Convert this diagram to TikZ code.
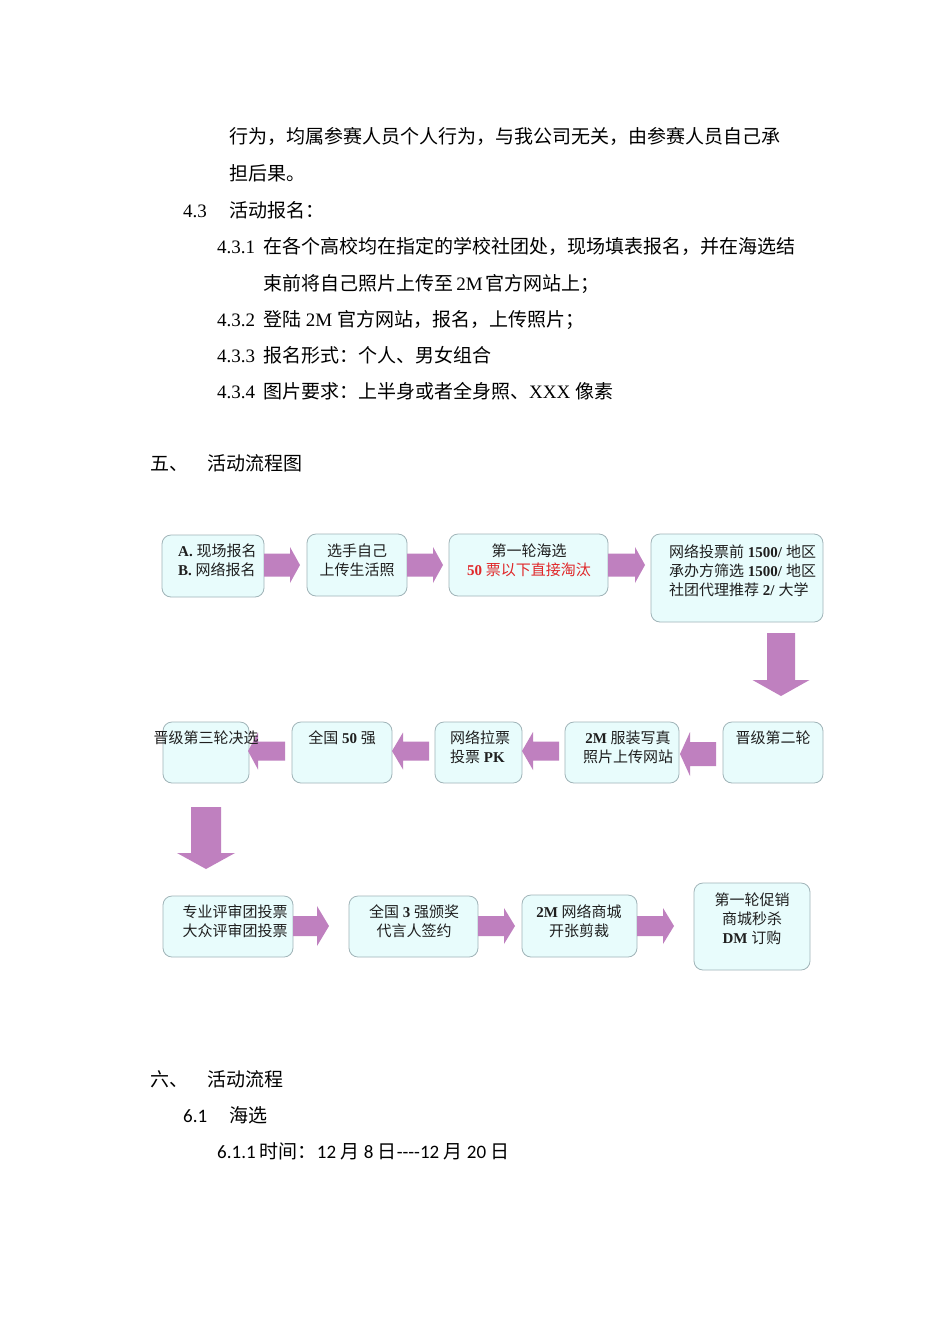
\documentclass[tikz,border=0pt]{standalone}
\usepackage{fontspec}
\setmainfont{Liberation Serif}
\newfontfamily\zhfont{Noto Sans CJK SC}
\newfontfamily\latsans{Carlito}
\newcommand\zh[1]{{\zhfont #1}}
\usetikzlibrary{calc}
\definecolor{boxfill}{HTML}{E8FCFC}
\definecolor{boxline}{HTML}{A0B4B8}
\definecolor{arrowcol}{HTML}{BF80BF}
\definecolor{redtxt}{HTML}{E0282A}
\tikzset{
  flowbox/.style={draw=boxline, fill=boxfill, rounded corners=9pt, line width=0.8pt, inner sep=0pt},
  bodytxt/.style={anchor=west, inner sep=0pt, font=\fontsize{19}{23}\selectfont, text height=16.72pt, text depth=2.28pt},
  sanstxt/.style={bodytxt, font=\fontsize{19}{23}\selectfont\latsans},
  boxtxt/.style={inner sep=0pt, font=\fontsize{15}{19}\selectfont, align=center, text=black!88},
}
% horizontal block arrow: from, tip, body half height, head half height, head length (negative for leftward)
\newcommand\harrow[5]{\fill[arrowcol] let \p1=(#1), \p2=(#2) in
  (\x1,{\y1+#3pt}) -- ({\x2-(#5pt)},{\y1+#3pt}) -- ({\x2-(#5pt)},{\y1+#4pt}) -- (\x2,\y1)
  -- ({\x2-(#5pt)},{\y1-#4pt}) -- ({\x2-(#5pt)},{\y1-#3pt}) -- (\x1,{\y1-#3pt}) -- cycle;}
% downward block arrow: from, tip, body half width, head half width, head length
\newcommand\varrow[5]{\fill[arrowcol] let \p1=(#1), \p2=(#2) in
  ({\x1-#3pt},\y1) -- ({\x1-#3pt},{\y2+#5pt}) -- ({\x1-#4pt},{\y2+#5pt}) -- (\x1,\y2)
  -- ({\x1+#4pt},{\y2+#5pt}) -- ({\x1+#3pt},{\y2+#5pt}) -- ({\x1+#3pt},\y1) -- cycle;}
\begin{document}
\begin{tikzpicture}[x=1pt,y=-1pt]
\fill[white] (0,0) rectangle (950,1344);
\useasboundingbox (0,0) rectangle (950,1344);

% body text
\node[bodytxt] (t1) at (229,136) {\zh{行为，均属参赛人员个人行为，与我公司无关，由参赛人员自己承}};
\node[bodytxt] (t2) at (229,173) {\zh{担后果。}};
\node[bodytxt] (n43) at (183,210) {4.3};
\node[bodytxt] (t3) at (229,210) {\zh{活动报名：}};
\node[bodytxt] (n431) at (217,246) {4.3.1};
\node[bodytxt] (t4) at (263,246) {\zh{在各个高校均在指定的学校社团处，现场填表报名，并在海选结}};
\node[bodytxt] (t5) at (263,283) {\zh{束前将自己照片上传至}\,2M\,\zh{官方网站上；}};
\node[bodytxt] (n432) at (217,319) {4.3.2};
\node[bodytxt] (t6) at (263,319) {\zh{登陆} 2M \zh{官方网站，报名，上传照片；}};
\node[bodytxt] (n433) at (217,355) {4.3.3};
\node[bodytxt] (t7) at (263,355) {\zh{报名形式：个人、男女组合}};
\node[bodytxt] (n434) at (217,391) {4.3.4};
\node[bodytxt] (t8) at (263,391) {\zh{图片要求：上半身或者全身照、}XXX \zh{像素}};
\node[bodytxt] (h5) at (150,463) {\zh{五、}};
\node[bodytxt] (h5t) at (207,463) {\zh{活动流程图}};

\node[sanstxt] (h6) at (150,1079) {\zh{六、}};
\node[sanstxt] (h6t) at (207,1079) {\zh{活动流程}};
\node[sanstxt] (n61) at (183,1115) {6.1};
\node[sanstxt] (t9) at (229,1115) {\zh{海选}};
\node[sanstxt] (n611) at (217,1151) {6.1.1 \zh{时间：}12 \zh{月} 8 \zh{日}----12 \zh{月} 20 \zh{日}};

% boxes
\node[flowbox, minimum width=102, minimum height=62] (b1) at (213,566) {};
\node[flowbox, minimum width=100, minimum height=62] (b2) at (357,565) {};
\node[flowbox, minimum width=159, minimum height=62] (b3) at (528.5,565) {};
\node[flowbox, minimum width=172, minimum height=88] (b4) at (737,578) {};
\node[flowbox, minimum width=100, minimum height=61] (b5) at (773,752.5) {};
\node[flowbox, minimum width=114, minimum height=61] (b6) at (622,752.5) {};
\node[flowbox, minimum width=87, minimum height=61] (b7) at (478.5,752.5) {};
\node[flowbox, minimum width=100, minimum height=61] (b8) at (342,752.5) {};
\node[flowbox, minimum width=86, minimum height=61] (b9) at (206,752.5) {};
\node[flowbox, minimum width=130, minimum height=61] (b10) at (228,926.5) {};
\node[flowbox, minimum width=129, minimum height=61] (b11) at (413.5,926.5) {};
\node[flowbox, minimum width=115, minimum height=62] (b12) at (579.5,926) {};
\node[flowbox, minimum width=116, minimum height=87] (b13) at (752,926.5) {};

% arrow end points
\coordinate (a1s) at (264,565); \coordinate (a1e) at (300,565);
\coordinate (a2s) at (407,565); \coordinate (a2e) at (443,565);
\coordinate (a3s) at (608,565); \coordinate (a3e) at (645,565);
\coordinate (d1s) at (781,633); \coordinate (d1e) at (781,696);
\coordinate (a5s) at (716,754); \coordinate (a5e) at (680,754);
\coordinate (a6s) at (559,751); \coordinate (a6e) at (522,751);
\coordinate (a7s) at (429,751); \coordinate (a7e) at (392,751);
\coordinate (a8s) at (285,751); \coordinate (a8e) at (248,751);
\coordinate (d2s) at (206,807); \coordinate (d2e) at (206,869);
\coordinate (a10s) at (293,926); \coordinate (a10e) at (329,926);
\coordinate (a11s) at (478,926); \coordinate (a11e) at (515,926);
\coordinate (a12s) at (637,926); \coordinate (a12e) at (674,926);

\harrow{a1s}{a1e}{11.5}{18}{10}
\harrow{a2s}{a2e}{11.5}{18}{10}
\harrow{a3s}{a3e}{11.5}{18}{10}
\varrow{d1s}{d1e}{14}{28.5}{16}
\harrow{a5s}{a5e}{12}{22}{-10}
\harrow{a6s}{a6e}{9.5}{19}{-11}
\harrow{a7s}{a7e}{9.5}{18.5}{-11}
\harrow{a8s}{a8e}{9.5}{18.5}{-10}
\varrow{d2s}{d2e}{15}{29}{16}
\harrow{a10s}{a10e}{10}{20}{12}
\harrow{a11s}{a11e}{10}{18}{11}
\harrow{a12s}{a12e}{10}{18}{11}

% box texts
\node[boxtxt, anchor=west, align=left] (l1) at (178,560.5) {\textbf{A.} \zh{现场报名}\\\textbf{B.} \zh{网络报名}};
\node[boxtxt] (l2) at (357,560.5) {\zh{选手自己}\\\zh{上传生活照}};
\node[boxtxt] (l3) at (529,560.5) {\zh{第一轮海选}\\\color{redtxt}\textbf{50} \zh{票以下直接淘汰}};
\node[boxtxt, anchor=west, align=left] (l4) at (669,571) {\zh{网络投票前} \textbf{1500/} \zh{地区}\\\zh{承办方筛选} \textbf{1500/} \zh{地区}\\\zh{社团代理推荐} \textbf{2/} \zh{大学}};
\node[boxtxt] (l5) at (773,738) {\zh{晋级第二轮}};
\node[boxtxt] (l6) at (628,747) {\textbf{2M} \zh{服装写真}\\\zh{照片上传网站}};
\node[boxtxt, anchor=west, align=left] (l7) at (450,747) {\zh{网络拉票}\\\zh{投票} \textbf{PK}};
\node[boxtxt] (l8) at (342,738) {\zh{全国} \textbf{50} \zh{强}};
\node[boxtxt] (l9) at (206,738) {\zh{晋级第三轮决选}};
\node[boxtxt] (l10) at (235,921) {\zh{专业评审团投票}\\\zh{大众评审团投票}};
\node[boxtxt] (l11) at (414,921) {\zh{全国} \textbf{3} \zh{强颁奖}\\\zh{代言人签约}};
\node[boxtxt] (l12) at (579,921) {\textbf{2M} \zh{网络商城}\\\zh{开张剪裁}};
\node[boxtxt] (l13) at (752,919) {\zh{第一轮促销}\\\zh{商城秒杀}\\\textbf{DM} \zh{订购}};
\end{tikzpicture}
\end{document}
